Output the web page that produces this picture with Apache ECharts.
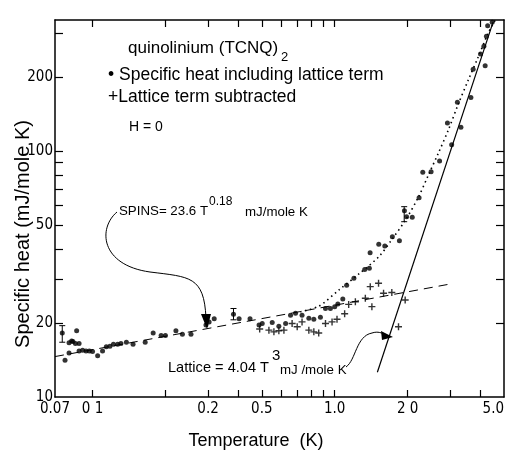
<!DOCTYPE html>
<html>
<head>
<meta charset="utf-8">
<script src="https://cdn.jsdelivr.net/npm/echarts@6/dist/echarts.min.js"></script>
<style>
html,body{margin:0;padding:0;background:#fff;}
#chart{width:513px;height:453px;}
</style>
</head>
<body>
<div id="chart"></div>
<script>
// specific heat including lattice term  [T (K), C (mJ/mole K)]
const inclLattice = [
  [0.075,18.2],[0.077,14.1],[0.080,15.1],[0.080,16.6],[0.082,16.9],[0.083,16.8],[0.085,16.5],[0.088,16.5],
  [0.086,18.6],[0.088,15.4],[0.091,15.5],[0.094,15.4],[0.097,15.4],[0.100,15.3],[0.105,14.7],[0.110,15.4],
  [0.114,16.0],[0.118,16.1],[0.122,16.4],[0.127,16.4],[0.131,16.5],[0.138,16.7],[0.147,16.4],[0.165,16.7],
  [0.178,18.2],[0.192,17.8],[0.200,17.8],[0.221,18.6],[0.235,18.0],[0.255,18.0],[0.294,19.6],[0.303,20.2],
  [0.318,20.8],[0.382,21.7],[0.403,20.8],[0.447,20.8],[0.487,19.6],[0.502,19.9],[0.552,20.1],[0.588,19.4],
  [0.627,19.9],[0.657,21.5],[0.689,21.9],[0.733,21.5],[0.782,20.9],[0.820,20.7],[0.873,21.1],[0.916,22.9],
  [0.960,22.9],[1.00,23.3],[1.03,23.9],[1.08,25.0],[1.12,28.5],[1.20,30.4],[1.33,33.0],[1.39,33.4],
  [1.40,38.6],[1.52,41.8],[1.61,41.1],[1.73,44.8],[1.85,43.2],[1.94,57.2],[1.98,54.1],[2.09,53.8],
  [2.23,64.6],[2.31,81.9],[2.50,82.4],[2.71,91.1],[2.92,130],[3.04,106],[3.21,158],[3.32,125],
  [3.65,165],[3.73,215],[4.00,248],[4.13,267],[4.18,222],[4.23,293],[4.28,323],[4.47,334]
];
// lattice term subtracted
const latticeSubtracted = [
  [0.490,18.9],[0.535,18.7],[0.561,18.4],[0.588,18.6],[0.617,18.7],[0.667,19.9],[0.700,19.3],[0.733,20.2],
  [0.782,18.7],[0.820,18.4],[0.859,18.2],[0.916,19.9],[0.975,20.2],[1.022,20.7],[1.099,21.8],[1.142,23.8],
  [1.217,24.4],[1.338,25.2],[1.424,23.3],[1.402,28.1],[1.517,29.0],[1.591,26.4],[1.721,26.6],[1.834,19.3],
  [1.954,24.8]
];
// [T, low, high]
const errorBars = [[0.075,16.7,19.5],[0.382,20.6,22.9],[1.936,51.6,59.4]];
// SPINS = 23.6 T^0.18 (straight on log-log)
const spinsFit = [[0.07,14.6],[3.0,28.8]];
// Lattice = 4.04 T^3
const latticeFit = [[1.50,12.6],[4.51,335]];
// dotted guide through the total data
const guideCurve = [
  [0.72,22.2],[0.86,23.4],[1.039,27.2],[1.255,31.6],[1.517,37.1],[1.717,43.5],[1.96,52.4],[2.217,65.0],
  [2.437,79.9],[2.679,98.1],[2.945,121.7],[3.238,155.2],[3.56,194.4],[3.913,241.1],[4.302,301.8],[4.598,340]
];

const xTicks = [0.1,0.2,0.3,0.4,0.5,0.6,0.7,0.8,0.9,1,2,3,4];
const xLabelVals = [0.07,0.1,0.3,0.5,1,2,5];
const xLabelText = ['0.07','0 1','0.2','0.5','1.0','2 0','5.0'];
const yTicks = [20,30,40,50,60,70,80,90,100,200,300];
const yLabelVals = [10,20,50,100,200];
const yLabelText = ['10','20','50','100','200'];

const lg = p => [Math.log10(p[0]), Math.log10(p[1])];
const findLabel = (v, vals, txt) => {
  for (let i = 0; i < vals.length; i++) {
    if (Math.abs(Math.log10(vals[i]) - v) < 1e-6) return txt[i];
  }
  return '';
};
const tickFont = "'Liberation Sans Narrow','DejaVu Sans Condensed',sans-serif";
const textFont = "'Liberation Sans',sans-serif";

function xAxisCfg(pos, labels) {
  return {
    type: 'value', position: pos,
    min: Math.log10(0.07), max: Math.log10(5),
    axisLine: {show: true, onZero: false, lineStyle: {color: '#000', width: 1.5}},
    axisTick: {show: true, inside: true, length: 7, customValues: xTicks.map(Math.log10), lineStyle: {color: '#000', width: 1.2}},
    axisLabel: {
      show: labels, customValues: xLabelVals.map(Math.log10), margin: 5,
      color: '#000', fontSize: 15, fontFamily: tickFont, alignMaxLabel: 'right',
      formatter: v => findLabel(v, xLabelVals, xLabelText)
    },
    splitLine: {show: false}
  };
}
function yAxisCfg(pos, labels) {
  return {
    type: 'value', position: pos,
    min: 1, max: Math.log10(341),
    axisLine: {show: true, onZero: false, lineStyle: {color: '#000', width: 1.5}},
    axisTick: {show: true, inside: true, length: 8, customValues: yTicks.map(Math.log10), lineStyle: {color: '#000', width: 1.2}},
    axisLabel: {
      show: labels, customValues: yLabelVals.map(Math.log10), margin: 2,
      color: '#000', fontSize: 15, fontFamily: tickFont,
      formatter: v => findLabel(v, yLabelVals, yLabelText)
    },
    splitLine: {show: false}
  };
}

const txt = (text, x, y, size, extra) => ({
  type: 'text', silent: true,
  style: Object.assign({text: text, x: x, y: y, fill: '#000', font: size + 'px ' + textFont, verticalAlign: 'middle'}, extra || {})
});
const curve = (s) => ({type: 'bezierCurve', silent: true, shape: s, style: {stroke: '#000', lineWidth: 1, fill: null}});
const head = (pts) => ({type: 'polygon', silent: true, shape: {points: pts}, style: {fill: '#000'}});

const chart = echarts.init(document.getElementById('chart'));
chart.setOption({
  backgroundColor: '#fff',
  animation: false,
  grid: {left: 55, right: 9, top: 20, bottom: 56},
  xAxis: [xAxisCfg('bottom', true), xAxisCfg('top', false)],
  yAxis: [yAxisCfg('left', true), yAxisCfg('right', false)],
  series: [
    {
      type: 'line', data: spinsFit.map(lg), showSymbol: false, silent: true,
      lineStyle: {color: '#000', width: 1, type: [9, 6]}
    },
    {
      type: 'line', data: latticeFit.map(lg), showSymbol: false, silent: true,
      lineStyle: {color: '#000', width: 1.2}
    },
    {
      type: 'line', data: guideCurve.map(lg), showSymbol: false, silent: true, smooth: 0.3,
      lineStyle: {color: '#000', width: 1.6, type: [1.5, 3.5]}
    },
    {
      type: 'scatter', data: inclLattice.map(lg), symbol: 'circle', symbolSize: 5,
      itemStyle: {color: '#000'}
    },
    {
      type: 'scatter', data: latticeSubtracted.map(lg),
      symbol: 'path://M2,0h1v2h2v1h-2v2h-1v-2h-2v-1h2z', symbolSize: 7,
      itemStyle: {color: '#000'}
    },
    {
      type: 'custom', silent: true,
      data: errorBars.map(e => [Math.log10(e[0]), Math.log10(e[1]), Math.log10(e[2])]),
      renderItem: (params, api) => {
        const lo = api.coord([api.value(0), api.value(1)]);
        const hi = api.coord([api.value(0), api.value(2)]);
        const st = {stroke: '#000', lineWidth: 1};
        return {type: 'group', children: [
          {type: 'line', shape: {x1: lo[0], y1: lo[1], x2: hi[0], y2: hi[1]}, style: st},
          {type: 'line', shape: {x1: lo[0] - 3, y1: lo[1], x2: lo[0] + 3, y2: lo[1]}, style: st},
          {type: 'line', shape: {x1: hi[0] - 3, y1: hi[1], x2: hi[0] + 3, y2: hi[1]}, style: st}
        ]};
      }
    }
  ],
  graphic: [
    txt('quinolinium (TCNQ)', 128, 48, 17),
    txt('2', 281, 57, 13),
    txt('\u2022 Specific heat including lattice term', 108, 75, 17.5),
    txt('+Lattice term subtracted', 108, 97, 17.5),
    txt('H = 0', 129, 127, 14),
    txt('SPINS= 23.6 T', 119, 211, 13.3),
    txt('0.18', 209, 202, 12),
    txt('mJ/mole K', 245, 212, 13.3),
    txt('Lattice = 4.04 T', 168, 368, 14.6),
    txt('3', 272, 356, 15),
    txt('mJ /mole K', 280, 370, 13.3),
    txt('Temperature  (K)', 256, 441, 18, {align: 'center'}),
    {
      type: 'text', silent: true, rotation: Math.PI / 2, x: 23, y: 234,
      style: {text: 'Specific heat (mJ/mole K)', fill: '#000', font: '20px ' + textFont, align: 'center', verticalAlign: 'middle'}
    },
    curve({x1: 117, y1: 212, cpx1: 98, cpy1: 228, cpx2: 100, cpy2: 265, x2: 150, y2: 272}),
    curve({x1: 150, y1: 272, cpx1: 190, cpy1: 277, cpx2: 204, cpy2: 276, x2: 206, y2: 318}),
    head([[201, 314], [211, 314], [207, 329]]),
    curve({x1: 346, y1: 367, cpx1: 356, cpy1: 360, cpx2: 356, cpy2: 336, x2: 372, y2: 333}),
    curve({x1: 372, y1: 333, cpx1: 378, cpy1: 331, cpx2: 382, cpy2: 333, x2: 386, y2: 335}),
    head([[381, 331], [382, 340], [393, 337]])
  ]
});
</script>
</body>
</html>
